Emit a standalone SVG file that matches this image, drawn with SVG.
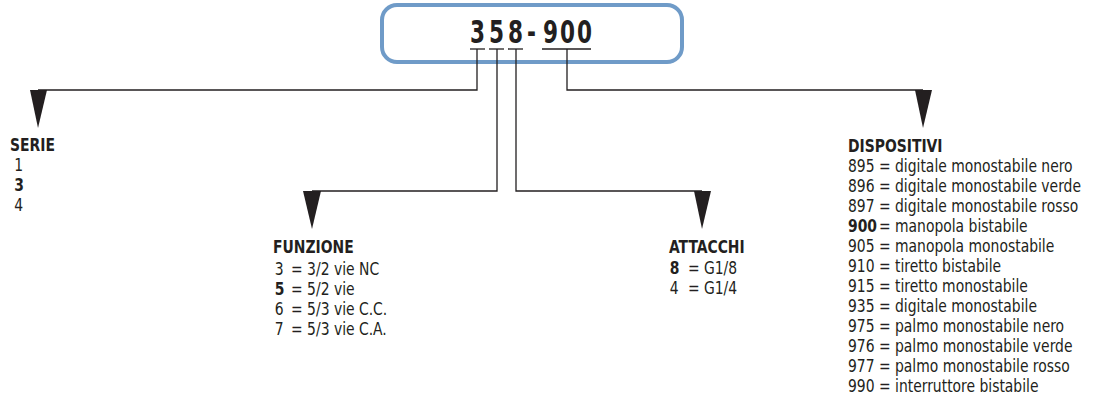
<svg xmlns="http://www.w3.org/2000/svg" width="1100" height="400" viewBox="0 0 1100 400">
<style>
text{font-family:"DejaVu Sans Condensed","DejaVu Sans",sans-serif;font-stretch:condensed;fill:#231f20;font-size:18px}
.t{font-weight:bold;font-size:18px}
.b{font-weight:bold}
.code{font-weight:bold;font-size:32px}
.ln{fill:none;stroke:#231f20;stroke-width:1.3}
.ul{stroke:#231f20;stroke-width:1.3}
.ar{fill:#231f20}
</style>
<rect width="1100" height="400" fill="#ffffff"/>
<g id="code">
<rect x="382" y="5" width="300" height="57" rx="15" fill="#ffffff" stroke="#6f9bc8" stroke-width="4"/>
<text class="code" transform="translate(470,43) scale(0.75,1)" x="0 25.3 50.7 76 97.3 120 142.7" y="0">358-900</text>
<line class="ul" x1="470" y1="49" x2="485" y2="49"/>
<line class="ul" x1="489" y1="49" x2="504" y2="49"/>
<line class="ul" x1="508" y1="49" x2="523" y2="49"/>
<line class="ul" x1="542" y1="49" x2="591" y2="49"/>
</g>
<g id="connectors">
<polyline class="ln" points="477,49 477,90 38,90"/>
<polyline class="ln" points="497,49 497,191 312,191"/>
<polyline class="ln" points="516,49 516,191 702,191"/>
<polyline class="ln" points="567,49 567,90 923,90"/>
<polygon class="ar" points="30,90 47,90 38,128"/>
<polygon class="ar" points="303,191 321,191 312,229"/>
<polygon class="ar" points="694,191 711,191 702,229"/>
<polygon class="ar" points="915,90 932,90 923,128"/>
</g>
<g id="serie" transform="translate(10,0) scale(0.86,1)">
<text class="t" x="0" y="151">SERIE</text>
<text x="5" y="171">1</text>
<text class="b" x="5" y="191">3</text>
<text x="5" y="211">4</text>
</g>
<g id="funzione" transform="translate(273,0) scale(0.86,1)">
<text class="t" x="0" y="253">FUNZIONE</text>
<text x="2" y="275">3</text><text x="21" y="275">= 3/2 vie NC</text>
<text class="b" x="2" y="295">5</text><text x="21" y="295">= 5/2 vie</text>
<text x="2" y="315">6</text><text x="21" y="315">= 5/3 vie C.C.</text>
<text x="2" y="335">7</text><text x="21" y="335">= 5/3 vie C.A.</text>
</g>
<g id="attacchi" transform="translate(669,0) scale(0.86,1)">
<text class="t" x="0" y="253">ATTACCHI</text>
<text class="b" x="1" y="274">8</text><text x="22" y="274">= G1/8</text>
<text x="1" y="294">4</text><text x="22" y="294">= G1/4</text>
</g>
<g id="dispositivi" transform="translate(848,0) scale(0.86,1)">
<text class="t" x="0" y="152">DISPOSITIVI</text>
<text x="0" y="172">895</text><text x="36" y="172">= digitale monostabile nero</text>
<text x="0" y="192">896</text><text x="36" y="192">= digitale monostabile verde</text>
<text x="0" y="212">897</text><text x="36" y="212">= digitale monostabile rosso</text>
<text class="b" x="0" y="232">900</text><text x="36" y="232">= manopola bistabile</text>
<text x="0" y="252">905</text><text x="36" y="252">= manopola monostabile</text>
<text x="0" y="272">910</text><text x="36" y="272">= tiretto bistabile</text>
<text x="0" y="292">915</text><text x="36" y="292">= tiretto monostabile</text>
<text x="0" y="312">935</text><text x="36" y="312">= digitale monostabile</text>
<text x="0" y="332">975</text><text x="36" y="332">= palmo monostabile nero</text>
<text x="0" y="352">976</text><text x="36" y="352">= palmo monostabile verde</text>
<text x="0" y="372">977</text><text x="36" y="372">= palmo monostabile rosso</text>
<text x="0" y="392">990</text><text x="36" y="392">= interruttore bistabile</text>
</g>
</svg>
